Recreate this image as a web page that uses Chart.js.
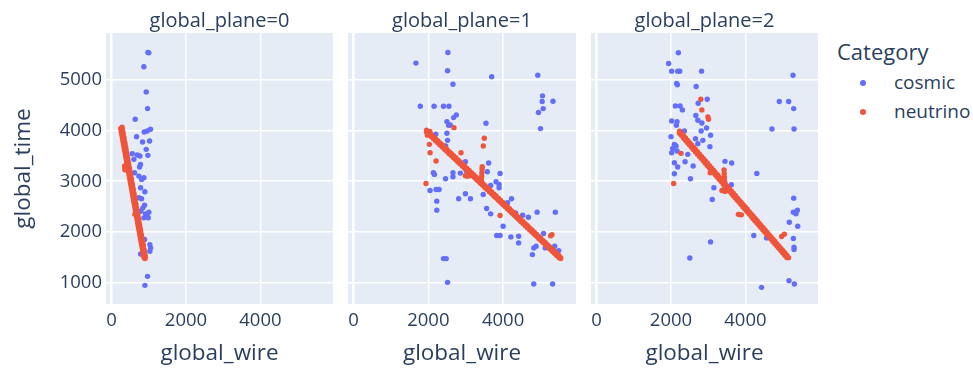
<!DOCTYPE html>
<html>
<head>
<meta charset="utf-8">
<script src="https://cdn.jsdelivr.net/npm/chart.js@4.4.1/dist/chart.umd.min.js"></script>
<style>
  body { margin: 0; background: #fff; }
  #wrap { position: relative; width: 973px; height: 370px; font-family: "Open Sans", sans-serif; color: #2a3f5f; }
  #wrap canvas { position: absolute; top: 0; }
  #legend { position: absolute; left: 837px; top: 0; }
  #legend .title { position: absolute; left: 0; top: 40px; font-size: 22px; line-height: 22px; white-space: nowrap; }
  #legend .item { position: absolute; left: 0; font-size: 19px; line-height: 19px; white-space: nowrap; }
  #legend .dot { position: absolute; left: 23px; top: 7px; width: 6px; height: 6px; border-radius: 50%; }
  #legend .label { position: absolute; left: 57px; top: 0; }
</style>
</head>
<body>
<div id="wrap">
  <canvas id="plane0" width="336" height="370" style="left:0px"></canvas>
  <canvas id="plane1" width="244" height="370" style="left:336px"></canvas>
  <canvas id="plane2" width="242" height="370" style="left:580px"></canvas>
  <div id="legend"></div>
</div>
<script>
// hits per wire plane, [global_wire, global_time]
const cosmic0 = [
  [976,5529],[1002,5520],[868,5246],[931,4754],[967,4426],[635,4216],[1047,4020],[958,3987],
  [877,3967],[671,3875],[1020,3790],[832,3770],[931,3626],[976,3508],[555,3540],[689,3515],
  [761,3495],[600,3430],[779,3331],[752,3278],[618,3167],[734,3101],[868,3068],[806,3036],
  [779,2872],[895,2793],[734,2675],[806,2655],[886,2530],[841,2478],[788,2412],[1002,2393],
  [913,2360],[958,2314],[868,2281],[985,2281],[886,1855],[1029,1756],[1047,1691],[1029,1625],
  [779,1573],[967,1133],[895,956]
];
const neutrino0 = [
  [282,4062],[288,4015],[307,3958],[313,3912],[332,3858],[338,3812],[357,3757],[363,3713],
  [381,3658],[387,3613],[406,3558],[412,3512],[431,3457],[437,3413],[455,3358],[461,3312],
  [480,3257],[486,3213],[504,3158],[510,3112],[529,3057],[535,3013],[554,2958],[560,2912],
  [578,2857],[584,2813],[603,2757],[609,2712],[627,2657],[633,2613],[652,2557],[658,2512],
  [677,2457],[683,2413],[701,2357],[707,2312],[726,2257],[732,2213],[750,2157],[756,2112],
  [775,2057],[781,2013],[800,1957],[806,1912],[824,1857],[830,1813],[849,1757],[855,1712],
  [874,1657],[880,1612],[898,1557],[904,1512],[900,1482],
  [246,4037],[258,3987],[270,3937],[282,3887],[295,3837],[307,3787],[320,3737],[332,3687],
  [344,3637],[357,3587],[369,3537],[381,3487],[393,3437],[406,3387],[418,3337],[430,3287],
  [443,3237],[455,3187],[467,3137],[479,3087],[492,3037],[504,2987],[516,2937],[529,2887],
  [541,2837],[553,2787],[566,2737],[578,2687],[590,2637],[602,2587],[615,2537],[627,2487],
  [639,2437],[652,2387],[664,2337],[676,2287],[689,2237],[701,2187],[713,2137],[725,2087],
  [738,2037],[750,1987],[762,1937],[775,1887],[787,1837],[799,1787],[812,1737],[824,1687],
  [836,1637],[848,1587],[861,1537],[875,1497],
  [349,3300],[362,3262],[356,3225],[628,2352]
];
const cosmic1 = [
  [1667,5319],[2523,5528],[2514,5168],[2658,4905],[3694,5050],[4928,5082],[5054,4676],[5045,4564],
  [5334,4571],[5072,4426],[4946,4348],[5000,4033],[1784,4472],[2153,4472],[2405,4472],[2550,4472],
  [2748,4302],[2676,4249],[2496,4171],[2541,4098],[2586,4105],[3541,4138],[2496,3941],[2198,3921],
  [2514,3803],[2460,3692],[2135,3167],[2162,3134],[2460,3049],[2658,3167],[2658,3088],[2856,3160],
  [2991,3383],[3018,3200],[3613,3357],[3577,3186],[3919,3154],[3811,2990],[3892,2937],[3892,2872],
  [3667,2918],[2045,2819],[2207,2839],[2288,2839],[2225,2609],[2225,2432],[2811,2655],[2991,2754],
  [3126,2655],[3468,2740],[3559,2465],[3667,2360],[4225,2655],[4117,2577],[4333,2379],[4523,2333],
  [4676,2294],[4910,2393],[5397,2393],[4000,2117],[3829,1934],[3919,1934],[4207,1907],[4415,1921],
  [4415,1789],[5081,1973],[4883,1724],[4820,1691],[4784,1560],[5126,1691],[5379,1724],[5487,1638],
  [2405,1481],[2478,1481],[2514,1015],[4820,982],[5325,982]
];
const neutrino1 = [
  [1951,4003],[2011,3961],[2071,3920],[2131,3878],[2191,3836],[2251,3795],[2311,3753],[2371,3711],
  [2431,3669],[2491,3628],[2551,3586],[2611,3544],[2671,3503],[2731,3461],[2791,3419],[2851,3378],
  [2911,3336],[2971,3294],[3031,3252],[3091,3211],[3151,3169],[3211,3127],[3271,3086],[3331,3044],
  [3391,3002],[3451,2961],[3511,2919],[3571,2877],[3631,2835],[3691,2794],[3751,2752],[3811,2710],
  [3871,2669],[3931,2627],[3991,2585],[4051,2544],[4111,2502],[4171,2460],[4231,2418],[4291,2377],
  [4351,2335],[4411,2293],[4471,2252],[4531,2210],[4591,2168],[4651,2127],[4711,2085],[4771,2043],
  [4831,2001],[4891,1960],[4951,1918],[5011,1876],[5071,1835],[5131,1793],[5191,1751],[5251,1710],
  [5311,1668],[5371,1626],[5431,1584],[5491,1543],[5537,1500],
  [1953,3962],[2013,3920],[2073,3879],[2133,3837],[2193,3795],[2253,3754],[2313,3712],[2373,3670],
  [2433,3628],[2493,3587],[2553,3545],[2613,3503],[2673,3462],[2733,3420],[2793,3378],[2853,3337],
  [2913,3295],[2973,3253],[3033,3211],[3093,3170],[3153,3128],[3213,3086],[3273,3045],[3333,3003],
  [3393,2961],[3453,2920],[3513,2878],[3573,2836],[3633,2794],[3693,2753],[3753,2711],[3813,2669],
  [3873,2628],[3933,2586],[3993,2544],[4053,2503],[4113,2461],[4173,2419],[4233,2377],[4293,2336],
  [4353,2294],[4413,2252],[4473,2211],[4533,2169],[4593,2127],[4653,2086],[4713,2044],[4773,2002],
  [4833,1960],[4893,1919],[4953,1877],[5013,1835],[5073,1794],[5133,1752],[5193,1710],[5253,1669],
  [5313,1627],[5373,1585],[5433,1543],[5493,1502],[5540,1482],
  [1975,3905],[2040,3975],[2990,3110],[3036,3101],[3080,3105],
  [3420,3030],[3426,3100],[3432,3170],[3438,3240],[3442,3285],
  [2685,4052],[3496,3843],[3469,3692],[2874,3560],[2045,3560],[2207,3396],[2027,3724],[1937,2957],
  [3919,2327],[5270,1928],[5306,1948]
];
const cosmic2 = [
  [2198,5522],[1937,5312],[2018,5161],[2180,5161],[2234,5161],[2820,5161],[2153,4918],[2171,4892],
  [2676,4859],[2973,4610],[2730,4531],[2117,4479],[2243,4479],[2306,4400],[2667,4289],[2721,4197],
  [2018,4184],[2162,4171],[2829,4144],[2144,4098],[2955,4046],[2811,3987],[2360,3987],[3063,3902],
  [2000,3875],[2658,3836],[2856,3803],[2721,3738],[2090,3724],[2135,3692],[2045,3646],[3045,3679],
  [2018,3560],[2162,3593],[2450,3528],[2378,3383],[2090,3364],[2180,3278],[2595,3298],[2090,3147],
  [2523,3049],[3451,3390],[3631,3357],[4306,3154],[3153,2872],[3622,2931],[3108,2642],[3063,1809],
  [2505,1494],[4225,1934],[4568,1888],[4433,917],[4910,4564],[5162,4564],[5297,4426],[4712,4026],
  [5306,4026],[5279,5082],[5297,2668],[5288,2393],[5360,2360],[5396,2432],[5333,2380],[5405,2117],
  [5180,2196],[5288,1875],[5306,1704],[5306,1658],[5171,1048],[5315,982]
];
const neutrino2 = [
  [2231,3984],[2284,3939],[2338,3894],[2391,3848],[2445,3803],[2498,3758],[2551,3713],[2605,3668],
  [2658,3623],[2712,3578],[2765,3532],[2818,3487],[2872,3442],[2925,3397],[2979,3352],[3032,3307],
  [3085,3261],[3139,3216],[3192,3171],[3246,3126],[3299,3081],[3352,3036],[3406,2990],[3459,2945],
  [3513,2900],[3566,2855],[3619,2810],[3673,2765],[3726,2720],[3780,2674],[3833,2629],[3886,2584],
  [3940,2539],[3993,2494],[4047,2449],[4100,2403],[4153,2358],[4207,2313],[4260,2268],[4314,2223],
  [4367,2178],[4420,2132],[4474,2087],[4527,2042],[4581,1997],[4634,1952],[4687,1907],[4741,1861],
  [4794,1816],[4848,1771],[4901,1726],[4954,1681],[5008,1636],[5061,1590],[5115,1545],[5160,1500],
  [2228,3941],[2281,3896],[2335,3851],[2388,3806],[2441,3761],[2495,3716],[2548,3670],[2602,3625],
  [2655,3580],[2708,3535],[2762,3490],[2815,3445],[2869,3400],[2922,3354],[2975,3309],[3029,3264],
  [3082,3219],[3136,3174],[3189,3128],[3242,3083],[3296,3038],[3349,2993],[3402,2948],[3456,2903],
  [3509,2858],[3563,2812],[3616,2767],[3669,2722],[3723,2677],[3776,2632],[3830,2587],[3883,2541],
  [3936,2496],[3990,2451],[4043,2406],[4097,2361],[4150,2316],[4203,2270],[4257,2225],[4310,2180],
  [4364,2135],[4417,2090],[4470,2045],[4524,2000],[4577,1954],[4631,1909],[4684,1864],[4737,1819],
  [4791,1774],[4844,1729],[4898,1683],[4951,1638],[5004,1593],[5058,1548],[5111,1503],
  [3425,3220],[3430,3150],[3434,3080],[3438,3010],[3445,2870],[3450,2800],
  [3810,2350],[3850,2345],[3890,2340],[3054,3167],[3369,2819],
  [2802,4610],[2829,4400],[2991,4262],[3009,4216],[2270,3547],[2072,2957],[4973,1915],[5045,1961]
];

const planes = ['global_plane=0', 'global_plane=1', 'global_plane=2'];
const categories = ['cosmic', 'neutrino'];
const colors = ['#636efa', '#ef553b'];
const xTicks = [0, 2000, 4000];
const yTicks = [1000, 2000, 3000, 4000, 5000];

const seriesByPlane = [
  [cosmic0, neutrino0],
  [cosmic1, neutrino1],
  [cosmic2, neutrino2]
];

const textColor = '#2a3f5f';
const fontFamily = '"Open Sans", sans-serif';

// light blue plot background behind the grid
const plotBg = {
  id: 'plotBg',
  beforeDraw(chart) {
    const { ctx, chartArea: a } = chart;
    ctx.save();
    ctx.fillStyle = '#e5ecf6';
    ctx.fillRect(a.left, a.top, a.width, a.height);
    ctx.restore();
  }
};

// facet label above each panel
const facetTitle = {
  id: 'facetTitle',
  afterDraw(chart, args, opts) {
    const { ctx, chartArea: a } = chart;
    ctx.save();
    ctx.font = '20px ' + fontFamily;
    ctx.fillStyle = textColor;
    ctx.textAlign = 'center';
    ctx.textBaseline = 'alphabetic';
    ctx.fillText(opts.text, (a.left + a.right) / 2, 26.5);
    ctx.restore();
  }
};

function makeChart(idx) {
  const first = idx === 0;
  const padding = [
    { top: 33, right: 3, bottom: 0, left: 0 },
    { top: 33, right: 4, bottom: 0, left: 12 },
    { top: 33, right: 4, bottom: 0, left: 11 }
  ][idx];

  const datasets = categories.map((name, i) => ({
    label: name,
    data: seriesByPlane[idx][i].map(p => ({ x: p[0], y: p[1] })),
    backgroundColor: colors[i],
    borderWidth: 0,
    pointRadius: 2.7,
    pointHoverRadius: 2.7,
    order: categories.length - i
  }));

  return new Chart(document.getElementById('plane' + idx), {
    type: 'scatter',
    data: { datasets },
    options: {
      responsive: false,
      animation: false,
      layout: { padding },
      plugins: {
        legend: { display: false },
        tooltip: { enabled: false },
        facetTitle: { text: planes[idx] }
      },
      scales: {
        x: {
          type: 'linear',
          min: -150,
          max: 5950,
          afterBuildTicks: s => { s.ticks = xTicks.map(v => ({ value: v })); },
          afterFit: s => { s.height = 66; },
          grid: {
            color: '#ffffff',
            lineWidth: c => (c.tick && c.tick.value === 0 ? 2.6 : 1.5),
            drawTicks: false
          },
          border: { display: false },
          ticks: {
            padding: 6,
            color: textColor,
            font: { family: fontFamily, size: 18.5 },
            maxRotation: 0,
            callback: v => String(v)
          },
          title: {
            display: true,
            text: 'global_wire',
            color: textColor,
            font: { family: fontFamily, size: 22.5 },
            padding: { top: 0, bottom: 3 }
          }
        },
        y: {
          type: 'linear',
          min: 590,
          max: 5910,
          afterBuildTicks: s => { s.ticks = yTicks.map(v => ({ value: v })); },
          afterFit: s => { s.width = first ? 106 : 0; },
          grid: { color: '#ffffff', lineWidth: 1.5, drawTicks: false },
          border: { display: false },
          ticks: {
            display: first,
            padding: 4,
            color: textColor,
            font: { family: fontFamily, size: 18.5 },
            callback: v => String(v)
          },
          title: {
            display: first,
            text: 'global_time',
            color: textColor,
            font: { family: fontFamily, size: 22.5 },
            padding: { top: 10, bottom: 0 }
          }
        }
      }
    },
    plugins: [plotBg, facetTitle]
  });
}

const charts = [0, 1, 2].map(makeChart);

// legend built from the datasets of the last panel
const legend = document.getElementById('legend');
const title = document.createElement('div');
title.className = 'title';
title.textContent = 'Category';
legend.appendChild(title);
const itemTops = [73, 101.5];
charts[2].data.datasets.forEach((ds, i) => {
  const item = document.createElement('div');
  item.className = 'item';
  item.style.top = itemTops[i] + 'px';
  const dot = document.createElement('span');
  dot.className = 'dot';
  dot.style.background = ds.backgroundColor;
  const label = document.createElement('span');
  label.className = 'label';
  label.textContent = ds.label;
  item.appendChild(dot);
  item.appendChild(label);
  legend.appendChild(item);
});
</script>
</body>
</html>
